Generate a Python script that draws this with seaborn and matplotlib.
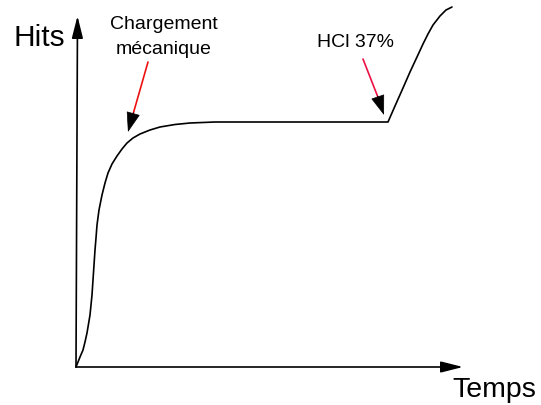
import matplotlib
matplotlib.use("Agg")
import matplotlib.pyplot as plt
import seaborn as sns
import pandas as pd

# Schematic data (time, hits) in arbitrary units
temps = [0, 2, 4, 7, 9, 11, 12, 14, 15, 16, 17, 18, 19, 20, 21, 23, 26, 29, 32,
         36, 41, 46, 51, 57, 64, 74, 84, 99, 114, 139,
         312, 319, 327, 334, 341, 347, 352, 357, 364, 370, 376]
hits = [0, 5, 10, 17, 25, 34, 40, 52, 62, 72, 87, 102, 117, 129, 142, 157, 172, 184, 194,
        203, 211, 218, 224, 229, 233, 237, 240, 242.5, 244, 245,
        245, 261, 279, 295, 310, 323, 333, 342, 351, 357, 360]

x_label = "Temps"
y_label = "Hits"
note_1 = ["Chargement", "mécanique"]
note_2 = "HCl 37%"

sns.set_style("white")
plt.rcParams["font.family"] = ["Liberation Sans", "DejaVu Sans"]
plt.rcParams["text.color"] = "black"

fig = plt.figure(figsize=(5.41, 4.05), dpi=100)
ax = fig.add_axes([0, 0, 1, 1])
ax.set_xlim(-76, 465)
ax.set_ylim(-38, 367)
ax.axis("off")

df = pd.DataFrame({"t": temps, "h": hits})
sns.lineplot(data=df, x="t", y="h", sort=False, color="black", lw=1.2, ax=ax)

# axes arrows
axis_arrow = dict(arrowstyle="-|>,head_length=1.35,head_width=0.34", color="black",
                  lw=1.2, shrinkA=0, shrinkB=0, mutation_scale=10)
ax.annotate("", xy=(387, 0), xytext=(0, 0), arrowprops=axis_arrow)
ax.annotate("", xy=(1.5, 351), xytext=(0, 0), arrowprops=axis_arrow)

ax.text(-63, 321, y_label, fontsize=21.5, va="baseline", ha="left")
ax.text(376, -30, x_label, fontsize=20.5, va="baseline", ha="left")

ax.text(87.5, 338, note_1[0], fontsize=14, ha="center", va="baseline")
ax.text(87.5, 313, note_1[1], fontsize=14, ha="center", va="baseline")
ax.text(279.5, 320, note_2, fontsize=14, ha="center", va="baseline")

head = dict(arrowstyle="-|>,head_length=1.3,head_width=0.45", color="black",
            lw=0.5, shrinkA=0, shrinkB=0, mutation_scale=10)

# arrow 1
ax.annotate("", xy=(56.9, 252.3), xytext=(72, 305),
            arrowprops=dict(arrowstyle="-", color="#ee1111", lw=1.2, shrinkA=0, shrinkB=0))
ax.annotate("", xy=(52, 235), xytext=(57.5, 254.5), arrowprops=head)

# arrow 2
ax.annotate("", xy=(302.3, 268.9), xytext=(287, 308),
            arrowprops=dict(arrowstyle="-", color="#ee1144", lw=1.2, shrinkA=0, shrinkB=0))
ax.annotate("", xy=(308, 252), xytext=(301.5, 271), arrowprops=head)

fig.savefig("out.png", dpi=100)
